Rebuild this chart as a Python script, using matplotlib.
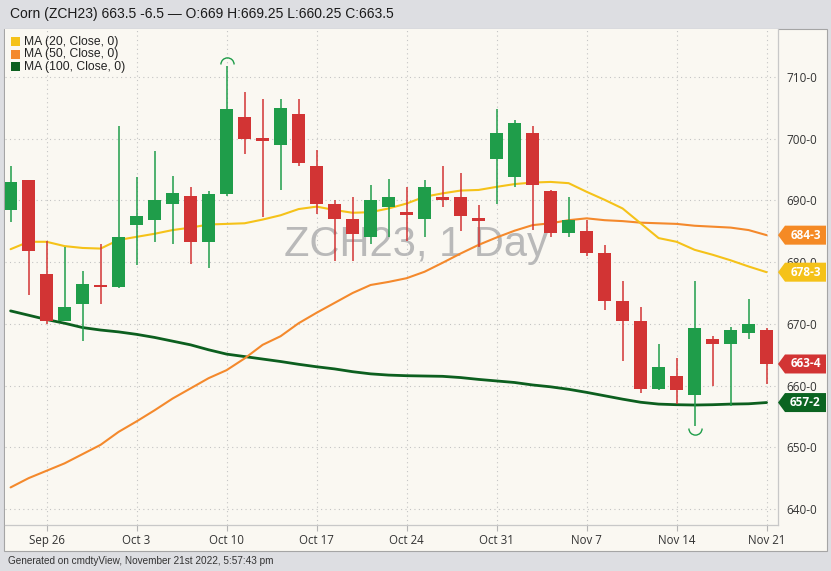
import numpy as np
import pandas as pd
import matplotlib
matplotlib.use('Agg')
import matplotlib.pyplot as plt
import matplotlib.transforms as mtransforms
from matplotlib.patches import Rectangle, Polygon
from matplotlib.path import Path

# trading days Sep 22 .. Nov 21 2022
days = pd.bdate_range('2022-09-22', '2022-11-21')

opens = [688.5, 693.25, 678.0, 670.5, 673.25, 676.25, 676.0,
         686.0, 686.75, 689.5, 690.75, 683.25,
         691.0, 703.5, 700.0, 699.0, 704.0,
         695.5, 689.5, 687.0, 684.0, 689.0,
         688.0, 687.0, 690.5, 690.5, 687.0,
         696.75, 693.75, 701.0, 691.5, 684.75,
         685.0, 681.5, 673.75, 670.5, 659.5,
         661.5, 658.5, 667.5, 666.75, 668.5,
         669.0]
highs = [695.5, 693.25, 683.5, 682.5, 678.5, 683.0, 702.0,
         693.75, 698.0, 694.0, 692.25, 691.5,
         711.75, 707.5, 706.5, 706.5, 706.5,
         698.25, 690.0, 690.5, 692.5, 693.5,
         692.25, 693.25, 695.5, 694.5, 689.25,
         704.75, 703.0, 702.0, 691.75, 690.5,
         686.75, 682.75, 677.0, 672.75, 666.75,
         664.5, 677.0, 668.0, 669.5, 674.0,
         669.25]
lows = [686.5, 674.75, 670.0, 670.5, 667.25, 673.25, 675.75,
        679.5, 683.25, 683.0, 679.75, 679.0,
        690.75, 697.5, 687.25, 691.75, 695.5,
        687.75, 680.25, 680.25, 683.0, 684.0,
        683.5, 684.0, 689.0, 685.0, 682.5,
        689.5, 692.25, 685.25, 684.0, 684.0,
        681.0, 672.25, 664.0, 658.75, 659.25,
        657.0, 653.5, 660.0, 656.75, 667.5,
        660.25]
closes = [693.0, 681.75, 670.5, 672.75, 676.5, 676.0, 684.0,
          687.5, 690.0, 691.25, 683.25, 691.0,
          704.75, 700.0, 699.75, 705.0, 696.0,
          689.5, 687.0, 684.5, 690.0, 690.5,
          687.75, 692.25, 690.0, 687.5, 686.75,
          701.0, 702.5, 692.5, 684.75, 686.75,
          681.5, 673.75, 670.5, 659.5, 663.0,
          659.25, 669.25, 666.75, 669.0, 670.0,
          663.5]

ma20 = [682.1, 683.3, 683.3, 682.6, 682.3, 682.2, 683.6,
        684.1, 684.6, 685.2, 685.6, 686.1,
        686.2, 686.3, 686.9, 687.6, 688.6,
        689.0, 688.45, 688.0, 688.1, 688.7,
        689.5, 690.6, 691.15, 691.6, 691.7,
        692.2, 692.65, 692.9, 693.0, 692.8,
        691.4, 690.1, 688.7, 686.3, 683.9,
        683.3, 682.0, 681.2, 680.3, 679.3,
        678.375]
ma50 = [643.5, 645.0, 646.2, 647.4, 648.9, 650.4, 652.5,
        654.2, 656.0, 657.9, 659.55, 661.2,
        662.5, 664.4, 666.6, 668.0, 670.1,
        671.8, 673.4, 675.0, 676.3, 676.8,
        677.4, 678.45, 679.9, 681.4, 682.8,
        684.0, 685.1, 686.0, 686.3, 686.8,
        687.1, 686.8, 686.65, 686.4, 686.3,
        686.2, 685.9, 685.75, 685.6, 685.2,
        684.375]
ma100 = [672.1, 671.4, 670.7, 670.1, 669.4, 669.0, 668.7,
         668.3, 667.8, 667.2, 666.6, 665.8,
         665.1, 664.7, 664.3, 663.9, 663.45,
         663.05, 662.7, 662.25, 661.9, 661.7,
         661.6, 661.55, 661.5, 661.3, 661.0,
         660.75, 660.5, 660.1, 659.8, 659.4,
         658.9, 658.35, 657.8, 657.3, 657.0,
         656.9, 656.85, 656.9, 657.0, 657.05,
         657.25]

ma_names = ['MA (20, Close, 0)', 'MA (50, Close, 0)', 'MA (100, Close, 0)']
header = 'Corn (ZCH23) 663.5 -6.5 \u2014 O:669 H:669.25 L:660.25 C:663.5'
footer = 'Generated on cmdtyView, November 21st 2022, 5:57:43 pm'

c_up = '#1f9d4a'
c_down = '#d23434'
c_ma = ['#f5c219', '#f4892c', '#0c5f1f']
c_tag = ['#f5c219', '#f58a25', '#0b6421']
cream = '#faf8f2'

plt.rcParams['font.family'] = ['Open Sans', 'DejaVu Sans']

W, H = 831, 571
fig = plt.figure(figsize=(W / 100, H / 100), dpi=100, facecolor='#dddee2')

fig.add_artist(Rectangle((4 / W, 1 - 551 / H), 823 / W, 522 / H, transform=fig.transFigure,
                         facecolor=cream, edgecolor='#a5a5a5', lw=0.8, zorder=-1))

ax = fig.add_axes([5 / W, 1 - 524.5 / H, 773 / W, 495.5 / H])
ax.set_facecolor(cream)

o = np.array(opens)
h = np.array(highs)
l = np.array(lows)
c = np.array(closes)
x = np.arange(len(days))
up = c >= o
cols = np.where(up, c_up, c_down)

# moving averages (under the candles)
for vals, col, lw in zip([ma100, ma50, ma20], c_ma[::-1], [2.0, 1.5, 1.5]):
    ax.plot(x, vals, color=col, lw=lw, zorder=2, solid_capstyle='round')

# candles
ax.vlines(x, l, h, colors=cols, lw=1.1, zorder=3)
body = np.abs(c - o)
mid = (c + o) / 2
bh = np.maximum(body, 0.4)
ax.bar(x, bh, 0.7, mid - bh / 2, color=cols, lw=0, zorder=4)

# high / low markers
ih = int(np.argmax(h))
il = int(np.argmin(l))
ax.plot(ih, h[ih] + 0.3, ls='none', marker=Path.arc(0, 180), ms=9.5, mfc='none',
        mec=c_up, mew=1.0, zorder=5, clip_on=False)
ax.plot(il, l[il] - 0.3, ls='none', marker=Path.arc(180, 360), ms=9.5, mfc='none',
        mec=c_up, mew=1.0, zorder=5, clip_on=False)

# axes
ax.set_xlim((5 - 10.6) / 18, (778 - 10.6) / 18)
ax.set_ylim(637.49, 717.78)

mondays = [i for i, d in enumerate(days) if d.weekday() == 0]
ax.set_xticks(mondays)
ax.set_xticklabels([days[i].strftime('%b ') + str(days[i].day) for i in mondays])
ax.yaxis.tick_right()
yt = np.arange(640, 711, 10)
ax.set_yticks(yt)
ax.set_yticklabels([f'{v}-0' for v in yt])
ax.tick_params(axis='x', length=4, width=0.8, color='#b5b5b5', pad=3, labelsize=8.3, labelcolor='#333333')
ax.tick_params(axis='y', length=0, pad=6, labelsize=8.5, labelcolor='#333333')
ax.grid(True, color='#c4c4c4', lw=0.8, linestyle=(0, (1, 3)))
for s in ['top', 'left']:
    ax.spines[s].set_visible(False)
for s in ['bottom', 'right']:
    ax.spines[s].set_color('#c8c8c8')
    ax.spines[s].set_linewidth(0.9)

# watermark
ax.text(416 / W, 1 - 256 / H, 'ZCH23, 1 Day', transform=fig.transFigure, ha='center', va='baseline',
        fontsize=30, color='#b9b9b9', family='Liberation Sans', zorder=1)

# price tags on the right axis
trans = mtransforms.blended_transform_factory(ax.transAxes, ax.transData)
hh = 9.5 / 6.1714
x0, x1, x2 = 1.0, 1 + 7 / 773, 1 + 48 / 773


def fmt8(v):
    return f'{int(v)}-{int(round((v - int(v)) * 8))}'


tag_vals = [ma50[-1], ma20[-1], closes[-1], ma100[-1]]
tag_cols = [c_tag[1], c_tag[0], c_down, c_tag[2]]
for v, col in zip(tag_vals, tag_cols):
    poly = Polygon([(x0, v), (x1, v + hh), (x2, v + hh), (x2, v - hh), (x1, v - hh)],
                   closed=True, transform=trans, facecolor=col, edgecolor='none',
                   clip_on=False, zorder=5)
    ax.add_patch(poly)
    ax.text((x1 + x2) / 2, v, fmt8(v), transform=trans, ha='center', va='center',
            fontsize=8.5, fontweight='bold', color='white', zorder=6, clip_on=False)

# legend
for k, (name, col) in enumerate(zip(ma_names, c_ma)):
    yc = 41.5 + k * 12.6
    fig.add_artist(Rectangle((11 / W, 1 - (yc + 4.5) / H), 9 / W, 9 / H, transform=fig.transFigure,
                             facecolor=col, edgecolor='none', zorder=5))
    fig.text(24 / W, 1 - yc / H, name, va='center', ha='left', fontsize=8.7,
             family='Liberation Sans', color='#222222')

fig.text(10 / W, 1 - 14 / H, header, va='center', ha='left', fontsize=10,
         family=['Liberation Sans', 'DejaVu Sans'], color='#1a1a1a')
fig.text(8 / W, 1 - 561 / H, footer, va='center', ha='left', fontsize=7.2,
         family='Liberation Sans', color='#333333')

fig.savefig('out.png', dpi=100, facecolor=fig.get_facecolor())
